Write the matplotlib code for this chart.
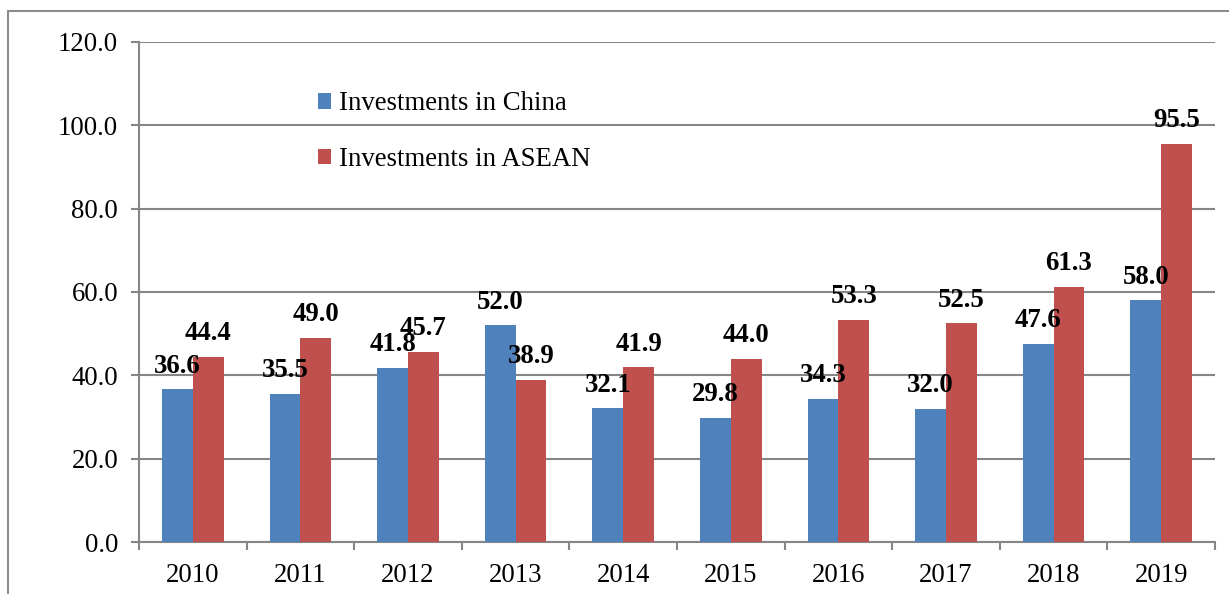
import matplotlib
matplotlib.use("Agg")
import matplotlib.pyplot as plt
import numpy as np
from matplotlib.patches import Rectangle

years = ["2010", "2011", "2012", "2013", "2014", "2015", "2016", "2017", "2018", "2019"]
china = [36.6, 35.5, 41.8, 52.0, 32.1, 29.8, 34.3, 32.0, 47.6, 58.0]
asean = [44.4, 49.0, 45.7, 38.9, 41.9, 44.0, 53.3, 52.5, 61.3, 95.5]
yticks = [0, 20, 40, 60, 80, 100, 120]

plt.rcParams['font.family'] = ['Liberation Serif', 'DejaVu Serif']
BLUE = "#4F81BD"
RED = "#C0504D"
GRAY = "#868686"
FS = 19.3

fig = plt.figure(figsize=(12.29, 5.94), dpi=100)
ax = fig.add_axes([139/1229, 1-542/594, (1215-139)/1229, 500/594])

# outer frame
fig.patches.append(Rectangle((8/1229, -0.05), 1.2, 0.05 + 1 - 11/594, transform=fig.transFigure,
                             fill=False, edgecolor="#8c8c8c", linewidth=1.5))

x = np.arange(len(years))
w = 1/3.5
b1 = ax.bar(x - w/2, china, width=w, color=BLUE, label="Investments in China", zorder=3)
b2 = ax.bar(x + w/2, asean, width=w, color=RED, label="Investments in ASEAN", zorder=3)

for rects, vals in ((b1, china), (b2, asean)):
    for r, v in zip(rects, vals):
        ax.annotate(f"{v:.1f}", (r.get_x() + r.get_width()/2, v), xytext=(0, 12),
                    textcoords="offset points", ha="center", va="baseline",
                    fontsize=FS, fontweight="bold", zorder=5)

ax.set_xlim(-0.5, len(years) - 0.5)
ax.set_ylim(0, 120)
ax.set_yticks(yticks)
ax.set_yticklabels([f"{t:.1f}" for t in yticks])
ax.set_xticks(x)
ax.set_xticklabels(years)
ax.set_xticks(np.arange(-0.5, len(years)), minor=True)
ax.tick_params(axis="x", which="major", length=0, pad=15, labelsize=FS)
ax.tick_params(axis="x", which="minor", length=6, width=1.5, color=GRAY, direction="out")
ax.tick_params(axis="y", length=6, width=1.5, color=GRAY, pad=9, labelsize=FS)
ax.grid(axis="y", color=GRAY, linewidth=1.5, zorder=0)
ax.set_axisbelow(True)
for s in ("top", "right"):
    ax.spines[s].set_visible(False)
for s in ("left", "bottom"):
    ax.spines[s].set_color(GRAY)
    ax.spines[s].set_linewidth(1.5)

leg = ax.legend(loc="upper left", bbox_to_anchor=(0.166, 0.901), frameon=False, fontsize=FS,
                handlelength=0.5, handleheight=0.5, handletextpad=0.3, labelspacing=1.14,
                borderaxespad=0, borderpad=0)

fig.savefig("out.png", dpi=100)
